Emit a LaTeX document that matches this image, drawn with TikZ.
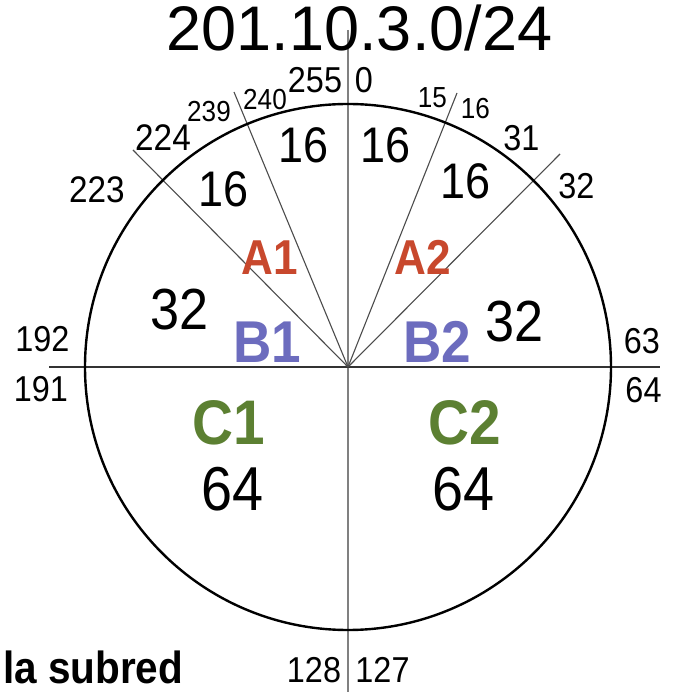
\documentclass[tikz,border=0pt]{standalone}
\usepackage{fontspec}
\setmainfont{Liberation Sans}[FakeStretch=0.9]
\newfontfamily\titlefont{Liberation Sans}
\definecolor{colA}{RGB}{200,72,45}
\definecolor{colB}{RGB}{108,108,190}
\definecolor{colC}{RGB}{92,128,50}
\begin{document}
\begin{tikzpicture}[x=1pt,y=-1pt,
  txt/.style={inner sep=0pt, font=\fontsize{#1}{#1}\selectfont},
  bold/.style={inner sep=0pt, font=\fontsize{#1}{#1}\selectfont\bfseries},
  radial/.style={draw=black!70, line width=1.1pt},
  axisv/.style={draw=black!50, line width=1.8pt},
  axish/.style={draw=black!80, line width=2pt},
  ringstyle/.style={circle, draw=black, line width=2.4pt, inner sep=0pt, minimum size=526pt}]
\useasboundingbox (0,0) rectangle (694,692);
\fill[white] (0,0) rectangle (694,692);
% geometry
\coordinate (O) at (348,367);
\coordinate (e224) at (133,150);
\coordinate (e240) at (234,92);
\coordinate (e16) at (457,93);
\coordinate (e32) at (560,154);
\coordinate (vtop) at (348,30);
\coordinate (vbot) at (348,692);
\coordinate (hl) at (49,367);
\coordinate (hr) at (660,367);
\draw[axisv] (vtop) -- (vbot);
\draw[axish] (hl) -- (hr);
\draw[radial] (O) -- (e224);
\draw[radial] (O) -- (e240);
\draw[radial] (O) -- (e16);
\draw[radial] (O) -- (e32);
\node[ringstyle] (ring) at (O) {};
% title
\node[inner sep=0pt, font=\fontsize{63}{63}\selectfont\titlefont] (title) at (359.5,28) {201.10.3.0/24};
% boundary labels
\node[txt=36] (l255) at (315,80.5) {255};
\node[txt=36] (l0) at (364,80.5) {0};
\node[txt=29] (l239) at (209,112) {239};
\node[txt=29] (l240) at (265,100) {240};
\node[txt=29] (l15) at (432.5,98) {15};
\node[txt=29] (l16) at (475.5,108.5) {16};
\node[txt=37] (l224) at (163,138) {224};
\node[txt=37] (l223) at (97,189.5) {223};
\node[txt=36] (l31) at (521.5,138) {31};
\node[txt=36] (l32) at (576.5,186.5) {32};
\node[txt=36] (l192) at (42.5,339.5) {192};
\node[txt=36] (l191) at (41,389) {191};
\node[txt=36] (l63) at (642,341) {63};
\node[txt=36] (l64) at (643.5,390) {64};
\node[txt=36] (l128) at (314,670) {128};
\node[txt=36] (l127) at (382.5,670) {127};
% sizes
\node[txt=50] (s16a) at (304,145.5) {16};
\node[txt=50] (s16b) at (386,145.5) {16};
\node[txt=50] (s16c) at (223.5,189.5) {16};
\node[txt=50] (s16d) at (465.5,181.5) {16};
\node[txt=58] (s32a) at (180,310) {32};
\node[txt=58] (s32b) at (515,321.5) {32};
\node[txt=62] (s64a) at (232.5,489.5) {64};
\node[txt=62] (s64b) at (464,489.5) {64};
% subnet names
\node[bold=49, text=colA] (A1) at (269.5,257.5) {A1};
\node[bold=49, text=colA] (A2) at (422.5,257.5) {A2};
\node[bold=59, text=colB] (B1) at (267,342) {B1};
\node[bold=59, text=colB] (B2) at (437,342) {B2};
\node[bold=63, text=colC] (C1) at (228.5,422.5) {C1};
\node[bold=63, text=colC] (C2) at (464.5,422.5) {C2};
% bottom text
\node[bold=45, anchor=base west, text depth=0pt] (sub) at (3,683) {la subred};
\end{tikzpicture}
\end{document}
